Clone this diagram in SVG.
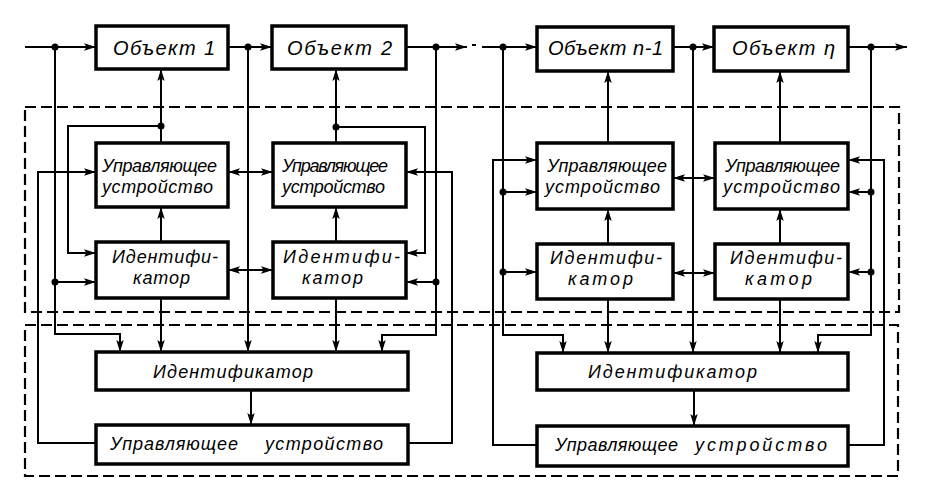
<svg xmlns="http://www.w3.org/2000/svg" width="940" height="480" viewBox="0 0 940 480">
<style>
.box{fill:#fff;stroke:#000;stroke-width:3.5}
.ln{fill:none;stroke:#000;stroke-width:2}
.ar{fill:none;stroke:#000;stroke-width:2;marker-end:url(#ah)}
.da{fill:none;stroke:#000;stroke-width:2;marker-start:url(#ah);marker-end:url(#ah)}
.dash{fill:none;stroke:#000;stroke-width:2.2;stroke-dasharray:11 5}
.dot{fill:#000}
text{font-family:"Liberation Sans",Arial,sans-serif;font-style:italic;font-size:18px;fill:#000}
.big{font-size:20px}
</style>
<defs>
<marker id="ah" markerUnits="userSpaceOnUse" markerWidth="13" markerHeight="9" refX="12" refY="4.5" orient="auto-start-reverse">
<path d="M0,0.8 L12,4.5 L0,8.2 L2.5,4.5 Z" fill="#000"/>
</marker>
</defs>

<g id="frames">
<path class="dash" d="M25,107 H899 V312 H25 Z"/>
<path class="dash" d="M25,325 H898 V476 H25 Z"/>
</g>

<g id="connectors">
<!-- main chain -->
<path class="ar" d="M25,47 H96"/>
<path class="ar" d="M228,47 H272"/>
<path class="ar" d="M406,47 H467"/>
<path class="ln" d="M472,45 H476"/>
<path class="ar" d="M482,47 H537"/>
<path class="ar" d="M673,47 H714"/>
<path class="ar" d="M848,47 H907"/>

<!-- left block 1 -->
<path class="ar" d="M161,143 V69"/>
<path class="ar" d="M161,126 H68 V253 H96"/>
<path class="ar" d="M161,242 V207"/>
<path class="ar" d="M161,298 V352"/>
<path class="ar" d="M55,47 V334 H120 V352"/>
<path class="ar" d="M55,282 H96"/>
<path class="ar" d="M96,443 H38 V172 H96"/>
<path class="da" d="M228,172 H273"/>
<path class="da" d="M228,270 H273"/>
<path class="ar" d="M248,47 V352"/>
<!-- left block 2 -->
<path class="ar" d="M336,143 V69"/>
<path class="ar" d="M336,127 H425 V253 H406"/>
<path class="ar" d="M336,242 V207"/>
<path class="ar" d="M336,298 V352"/>
<path class="ar" d="M436,47 V335 H382 V352"/>
<path class="ar" d="M436,282 H406"/>
<path class="ar" d="M408,443 H452 V172 H406"/>
<path class="ar" d="M251,390 V425"/>

<!-- right block n-1 -->
<path class="ar" d="M503,47 V335 H563 V353"/>
<path class="ar" d="M503,192 H537"/>
<path class="ar" d="M503,272 H537"/>
<path class="ar" d="M537,445 H493 V160 H537"/>
<path class="ar" d="M608,143 V71"/>
<path class="ar" d="M608,244 V209"/>
<path class="ar" d="M608,299 V353"/>
<path class="da" d="M673,178 H715"/>
<path class="da" d="M673,273 H715"/>
<path class="ar" d="M693,47 V353"/>
<!-- right block n -->
<path class="ar" d="M780,143 V71"/>
<path class="ar" d="M780,244 V209"/>
<path class="ar" d="M780,299 V353"/>
<path class="ar" d="M871,47 V335 H818 V353"/>
<path class="ar" d="M871,192 H848"/>
<path class="ar" d="M871,272 H848"/>
<path class="ar" d="M848,445 H884 V160 H848"/>
<path class="ar" d="M694,390 V426"/>

<!-- junction dots -->
<circle class="dot" cx="55" cy="47" r="3.5"/>
<circle class="dot" cx="248" cy="47" r="3.5"/>
<circle class="dot" cx="436" cy="47" r="3.5"/>
<circle class="dot" cx="503" cy="47" r="3.5"/>
<circle class="dot" cx="693" cy="47" r="3.5"/>
<circle class="dot" cx="871" cy="47" r="3.5"/>
<circle class="dot" cx="161" cy="126" r="3.5"/>
<circle class="dot" cx="336" cy="127" r="3.5"/>
<circle class="dot" cx="55" cy="282" r="3.5"/>
<circle class="dot" cx="436" cy="282" r="3.5"/>
<circle class="dot" cx="503" cy="192" r="3.5"/>
<circle class="dot" cx="503" cy="272" r="3.5"/>
<circle class="dot" cx="871" cy="192" r="3.5"/>
<circle class="dot" cx="871" cy="272" r="3.5"/>
</g>

<g id="obj1"><rect class="box" x="96" y="26" width="132" height="43"/><text class="big" x="113" y="55" textLength="102">Объект  1</text></g>
<g id="obj2"><rect class="box" x="272" y="26" width="134" height="43"/><text class="big" x="287" y="55" textLength="105">Объект  2</text></g>
<g id="objn1"><rect class="box" x="537" y="27" width="136" height="44"/><text class="big" x="548" y="55" textLength="115">Объект n-1</text></g>
<g id="objn"><rect class="box" x="714" y="27" width="134" height="44"/><text class="big" x="732" y="55" textLength="103">Объект  η</text></g>

<g id="uu1"><rect class="box" x="96" y="143" width="132" height="64"/><text x="102" y="172" textLength="115">Управляющее</text><text x="102" y="193" textLength="111">устройство</text></g>
<g id="id1"><rect class="box" x="96" y="242" width="132" height="56"/><text x="112" y="263" textLength="106">Идентифи-</text><text x="133" y="284" textLength="57">катор</text></g>
<g id="uu2"><rect class="box" x="273" y="143" width="133" height="64"/><text x="282" y="172" textLength="106">Управляющее</text><text x="282" y="193" textLength="103">устройство</text></g>
<g id="id2"><rect class="box" x="273" y="242" width="133" height="56"/><text x="283" y="263" textLength="117">Идентифи-</text><text x="302" y="284" textLength="61">катор</text></g>

<g id="uun1"><rect class="box" x="537" y="143" width="136" height="66"/><text x="547" y="172" textLength="120">Управляющее</text><text x="545" y="193" textLength="115">устройство</text></g>
<g id="idn1"><rect class="box" x="537" y="244" width="136" height="55"/><text x="550" y="264" textLength="112">Идентифи-</text><text x="568" y="285" textLength="65">катор</text></g>
<g id="uun"><rect class="box" x="715" y="143" width="133" height="66"/><text x="725" y="172" textLength="115">Управляющее</text><text x="723" y="193" textLength="117">устройство</text></g>
<g id="idn"><rect class="box" x="715" y="244" width="133" height="55"/><text x="730" y="264" textLength="112">Идентифи-</text><text x="745" y="285" textLength="67">катор</text></g>

<g id="lid"><rect class="box" x="96" y="352" width="312" height="38"/><text x="153" y="378" textLength="160">Идентификатор</text></g>
<g id="luu"><rect class="box" x="96" y="425" width="312" height="39"/><text x="110" y="450" textLength="128">Управляющее</text><text x="265" y="450" textLength="118">устройство</text></g>
<g id="rid"><rect class="box" x="537" y="353" width="311" height="37"/><text x="588" y="378" textLength="169">Идентификатор</text></g>
<g id="ruu"><rect class="box" x="537" y="426" width="311" height="40"/><text x="555" y="451" textLength="123">Управляющее</text><text x="695" y="451" textLength="132">устройство</text></g>
</svg>
